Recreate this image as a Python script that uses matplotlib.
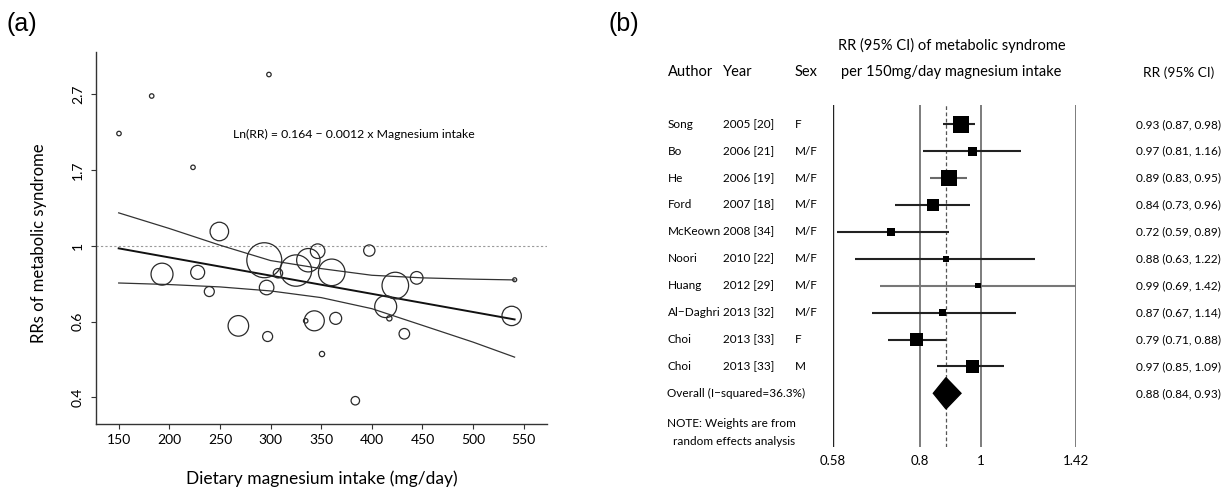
import numpy as np
import matplotlib
matplotlib.use("Agg")
import matplotlib.pyplot as plt
import matplotlib.transforms as mtransforms
from matplotlib.ticker import NullLocator

plt.rcParams['font.family'] = ['Lato', 'DejaVu Sans']

# ---- panel (a): meta-regression bubbles ----
mg_intake = [150.3, 182.6, 298.4, 223.4, 249.4, 192.8, 228.0, 239.5, 268.2, 293.8,
             296.1, 297.1, 307.3, 325.1, 334.7, 337.3, 346.5, 343.2, 350.8, 360.4,
             364.3, 397.5, 383.7, 423.2, 413.7, 417.3, 444.3, 432.1, 538.1, 541.1]
rr_points = [2.10, 2.69, 3.10, 1.68, 1.10, 0.83, 0.84, 0.74, 0.59, 0.91,
             0.76, 0.55, 0.835, 0.85, 0.61, 0.91, 0.966, 0.61, 0.49, 0.84,
             0.62, 0.97, 0.36, 0.77, 0.67, 0.62, 0.81, 0.56, 0.63, 0.80]
study_weight = [5, 5, 5, 5, 86, 121, 49, 25, 106, 306,
                53, 25, 22, 246, 5, 137, 53, 100, 7, 177,
                36, 32, 18, 177, 121, 7, 40, 28, 94, 4]

fit_intercept = 0.164
fit_slope = -0.0012
fit_range = [150, 541]

band_x = [150, 200, 250, 300, 350, 400, 450, 500, 541]
band_upper = [1.244, 1.122, 1.005, 0.908, 0.861, 0.824, 0.810, 0.803, 0.799]
band_lower = [0.783, 0.775, 0.763, 0.743, 0.711, 0.661, 0.592, 0.530, 0.480]

x_ticks = [150, 200, 250, 300, 350, 400, 450, 500, 550]
y_ticks = np.exp([-1, -0.5, 0, 0.5, 1])
y_ticklabels = ['0.4', '0.6', '1', '1.7', '2.7']

# ---- panel (b): forest plot ----
authors = ['Song', 'Bo', 'He', 'Ford', 'McKeown', 'Noori', 'Huang', 'Al\u2212Daghri', 'Choi', 'Choi']
years = ['2005 [20]', '2006 [21]', '2006 [19]', '2007 [18]', '2008 [34]',
         '2010 [22]', '2012 [29]', '2013 [32]', '2013 [33]', '2013 [33]']
sexes = ['F', 'M/F', 'M/F', 'M/F', 'M/F', 'M/F', 'M/F', 'M/F', 'F', 'M']
rr_est = [0.93, 0.97, 0.89, 0.84, 0.72, 0.88, 0.99, 0.87, 0.79, 0.97]
ci_lo = [0.87, 0.81, 0.83, 0.73, 0.59, 0.63, 0.69, 0.67, 0.71, 0.85]
ci_hi = [0.98, 1.16, 0.95, 0.96, 0.89, 1.22, 1.42, 1.14, 0.88, 1.09]
weight_pct = [21.9, 6.7, 20.1, 11.3, 5.0, 2.5, 2.2, 3.8, 13.9, 12.6]
overall = (0.88, 0.84, 0.93)
i_squared = 36.3
forest_ticks = [0.58, 0.8, 1, 1.42]
forest_ticklabels = ['0.58', '0.8', '1', '1.42']

W, H = 1226, 490
fig = plt.figure(figsize=(W / 100, H / 100), dpi=100)


def fx(px):
    return px / W


def fy(py):
    return 1 - py / H


# panel (a)
ax1 = fig.add_axes([fx(96), fy(423.5), (547.3 - 96) / W, (423.5 - 51.7) / H])
ax1.set_yscale('log')
ax1.set_xlim(127.6, 573.3)
ax1.set_ylim(np.exp(-1.172), np.exp(1.282))
for s in ['top', 'right']:
    ax1.spines[s].set_visible(False)
for s in ['left', 'bottom']:
    ax1.spines[s].set_color('#333333')
    ax1.spines[s].set_linewidth(1.0)

ax1.axhline(1, color='#9a9a9a', lw=0.8, ls=(0, (2, 2)))
ax1.scatter(mg_intake, rr_points, s=np.array(study_weight) * 2.07,
            facecolors='none', edgecolors='#2a2a2a', linewidths=0.9, zorder=3)
fx_line = np.array(fit_range, dtype=float)
ax1.plot(fx_line, np.exp(fit_intercept + fit_slope * fx_line), color='#111111', lw=1.4)
ax1.plot(band_x, band_upper, color='#333333', lw=0.9)
ax1.plot(band_x, band_lower, color='#333333', lw=0.9)

ax1.set_xticks(x_ticks)
ax1.set_yticks(y_ticks)
ax1.set_yticklabels(y_ticklabels, rotation=90, va='center')
ax1.yaxis.set_minor_locator(NullLocator())
ax1.tick_params(length=3.6, width=0.8, color='#333333', labelsize=10, pad=4)
ax1.tick_params(axis='y', pad=5)

ax1.text(263, np.exp(0.733), 'Ln(RR) = 0.164 \u2212 0.0012 x Magnesium intake',
         ha='left', va='center', fontsize=8.8)
ax1.set_xlabel('Dietary magnesium intake (mg/day)', fontsize=12.5)
ax1.set_ylabel('RRs of metabolic syndrome', fontsize=12)
ax1.xaxis.set_label_coords(0.5, (423.5 - 478.3) / (423.5 - 51.7))
ax1.xaxis.label.set_va('center')
ax1.yaxis.set_label_coords((39.3 - 96) / (547.3 - 96), (423.5 - 243.5) / (423.5 - 51.7))
ax1.yaxis.label.set_va('center')

fig.text(fx(7), fy(24), '(a)', fontsize=18, va='center', ha='left', family='Liberation Sans')
fig.text(fx(609), fy(24), '(b)', fontsize=18, va='center', ha='left', family='Liberation Sans')

# panel (b)
top_px, bot_px, row0_px, row_h = 105, 446.7, 124.3, 26.9
ax2 = fig.add_axes([fx(832.7), fy(bot_px), (1076 - 832.7) / W, (bot_px - top_px) / H])
ax2.set_xscale('log')
ax2.set_xlim(0.58, 1.42)
ax2.set_ylim((bot_px - row0_px) / row_h, (top_px - row0_px) / row_h)
ax2.axis('off')

ax2.axvline(0.58, color='#222222', lw=1.0)
for v in [0.8, 1, 1.42]:
    ax2.axvline(v, color='#666666', lw=1.2)
ax2.axvline(overall[0], color='#555555', lw=0.9, ls=(0, (3, 2)))

rows = np.arange(len(authors))
line_cols = ['#222222'] * len(authors)
line_cols[2] = '#6a6a6a'
line_cols[6] = '#777777'
ax2.hlines(rows, ci_lo, ci_hi, colors=line_cols, lw=1.5, zorder=2)
side_px = 3.57 * np.sqrt(weight_pct)
ax2.scatter(rr_est, rows, marker='s', s=(side_px * 0.72) ** 2, color='black',
            linewidths=0, zorder=3)

r_over = len(authors)
ax2.fill([overall[1], overall[0], overall[2], overall[0]],
         [r_over, r_over - 0.58, r_over, r_over + 0.58], color='black', zorder=3)

for v, lab in zip(forest_ticks, forest_ticklabels):
    ax2.text(v, (461 - row0_px) / row_h, lab, ha='center', va='center',
             fontsize=9.5, clip_on=False)

trans = mtransforms.blended_transform_factory(fig.transFigure, ax2.transData)
fs_row = 8.5
for i in rows:
    ax2.text(fx(668), i, authors[i], transform=trans, va='center', fontsize=fs_row)
    ax2.text(fx(723), i, years[i], transform=trans, va='center', fontsize=fs_row)
    ax2.text(fx(795), i, sexes[i], transform=trans, va='center', fontsize=fs_row)
    ax2.text(fx(1136), i, f'{rr_est[i]:.2f} ({ci_lo[i]:.2f}, {ci_hi[i]:.2f})',
             transform=trans, va='center', fontsize=fs_row)
ax2.text(fx(667), r_over, f'Overall (I\u2212squared={i_squared}%)', transform=trans,
         va='center', fontsize=fs_row)
ax2.text(fx(1136), r_over, f'{overall[0]:.2f} ({overall[1]:.2f}, {overall[2]:.2f})',
         transform=trans, va='center', fontsize=fs_row)

fig.text(fx(667), fy(423.3), 'NOTE: Weights are from', va='center', fontsize=fs_row)
fig.text(fx(673), fy(441), 'random effects analysis', va='center', fontsize=fs_row)

fs_head = 10.5
fig.text(fx(668), fy(72.4), 'Author', va='center', fontsize=fs_head)
fig.text(fx(723), fy(72.4), 'Year', va='center', fontsize=fs_head)
fig.text(fx(795), fy(72.4), 'Sex', va='center', fontsize=fs_head)
fig.text(fx(951.4), fy(45.2), 'RR (95% CI) of metabolic syndrome', ha='center',
         va='center', fontsize=fs_head)
fig.text(fx(951.4), fy(72.4), 'per 150mg/day magnesium intake', ha='center',
         va='center', fontsize=fs_head)
fig.text(fx(1142.6), fy(72.4), 'RR (95% CI)', va='center', fontsize=9.8)

fig.savefig('out.png', dpi=100)
